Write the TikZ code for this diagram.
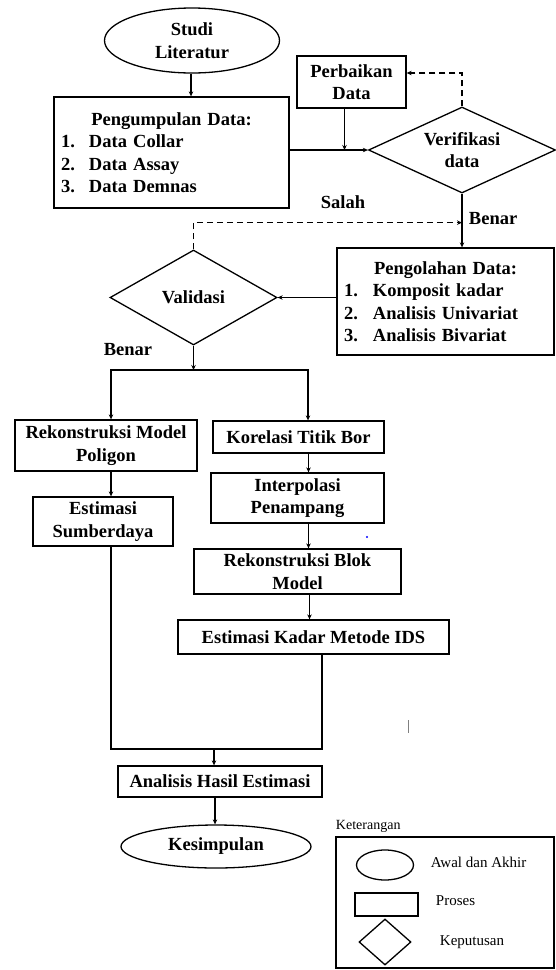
\documentclass[tikz,border=0pt]{standalone}
\usepackage{fontspec}
\setmainfont{Liberation Serif}
\usetikzlibrary{shapes.geometric,arrows.meta}

\begin{document}
\begin{tikzpicture}[x=1pt,y=-1pt,line width=1.3pt,>={Stealth[length=5pt,width=4.5pt]}]
    \tikzstyle{proses}=[draw,rectangle,inner sep=0pt,align=center,font=\fontsize{18.5}{22.5}\selectfont\bfseries]
    \tikzstyle{daftar}=[proses,align=left,inner xsep=7pt]
    \tikzstyle{terminal}=[draw,ellipse,inner sep=0pt,align=center,font=\fontsize{18.5}{22.5}\selectfont\bfseries]
    \tikzstyle{keputusan}=[draw,diamond,inner sep=0pt,align=center,font=\fontsize{18.5}{22.5}\selectfont\bfseries]
    \tikzstyle{label}=[font=\fontsize{18.5}{22.5}\selectfont\bfseries]
    \tikzstyle{balik}=[->,line width=1.1pt,dash pattern=on 6pt off 4pt]
    \tikzstyle{ket}=[anchor=west,font=\fontsize{15}{18}\selectfont]
    \useasboundingbox (0,0) rectangle (556,970);
    % alur utama
    \node[terminal,minimum width=175pt,minimum height=65pt] (F_studi) at (192,40.5) {Studi\\Literatur};
    \node[daftar,text width=221pt,minimum height=111pt] (F_kumpul) at (171.5,152.5) {\makebox[221pt][c]{Pengumpulan Data:}\\ \makebox[28pt][l]{1.}Data Collar\\ \makebox[28pt][l]{2.}Data Assay\\ \makebox[28pt][l]{3.}Data Demnas};
    \node[proses,minimum width=109pt,minimum height=52pt] (F_perbaikan) at (351.5,82) {Perbaikan\\Data};
    \node[keputusan,aspect=2.17,minimum width=187pt,minimum height=86pt] (F_verif) at (462,150) {Verifikasi\\data};
    \node[daftar,text width=203pt,minimum height=107pt] (F_olah) at (445.5,301.5) {\makebox[203pt][c]{Pengolahan Data:}\\ \makebox[29pt][l]{1.}Komposit kadar\\ \makebox[29pt][l]{2.}Analisis Univariat\\ \makebox[29pt][l]{3.}Analisis Bivariat};
    \node[keputusan,aspect=1.76,minimum width=167pt,minimum height=95pt] (F_valid) at (193.5,297.5) {Validasi};
    \node[proses,minimum width=182pt,minimum height=51pt] (F_poligon) at (106,445.5) {Rekonstruksi Model\\Poligon};
    \node[proses,minimum width=171pt,minimum height=32pt] (F_korelasi) at (298.5,437) {Korelasi Titik Bor};
    \node[proses,minimum width=140pt,minimum height=49pt] (F_sumber) at (103,521.5) {Estimasi\\Sumberdaya};
    \node[proses,minimum width=173pt,minimum height=50pt] (F_interp) at (297.5,498) {Interpolasi\\Penampang};
    \node[proses,minimum width=207pt,minimum height=45pt] (F_blok) at (297.5,571.5) {Rekonstruksi Blok\\Model};
    \node[proses,minimum width=271pt,minimum height=34pt] (F_kadar) at (313.5,637) {Estimasi Kadar Metode IDS};
    \node[proses,minimum width=204pt,minimum height=31pt] (F_analisis) at (220,781.5) {Analisis Hasil Estimasi};
    \node[terminal,minimum width=190pt,minimum height=43pt] (F_simpul) at (216,846.5) {Kesimpulan};
    \node[label] (T_salah) at (343,202) {Salah};
    \node[label,anchor=west] (T_benar1) at (465,219) {Benar};
    \node[label] (T_benar2) at (128,350) {Benar};
    \coordinate (C_split) at (193.5,370);
    \coordinate (C_left) at (111,749);
    \coordinate (C_right) at (322,749);
    \coordinate (C_merge) at (214,749);
    % penghubung
    \draw[->] ([xshift=-1pt]F_studi.south) -- ([xshift=-1pt]F_studi.south |- F_kumpul.north);
    \draw[->] (F_kumpul.east |- F_verif.west) -- (F_verif.west);
    \draw[->] ([xshift=-7pt]F_perbaikan.south) -- ([xshift=-7pt]F_perbaikan.south |- F_verif.west);
    \draw[balik] (F_verif.north) |- ([yshift=9pt]F_perbaikan.east);
    \draw[->] (F_verif.south) -- (F_verif.south |- F_olah.north);
    \draw[balik] (F_valid.north) |- ([yshift=-29pt]F_verif.south);
    \draw[->] (F_olah.west |- F_valid.east) -- (F_valid.east);
    \draw[->] (F_valid.south) -- (C_split);
    \draw[->] (C_split) -| ([xshift=5pt]F_poligon.north);
    \draw[->] (C_split) -| ([xshift=9.5pt]F_korelasi.north);
    \draw[->] ([xshift=5pt]F_poligon.south) -- ([xshift=5pt]F_poligon.south |- F_sumber.north);
    \draw[->] ([xshift=10pt]F_korelasi.south) -- ([xshift=10pt]F_korelasi.south |- F_interp.north);
    \draw[->] ([xshift=11pt]F_interp.south) -- ([xshift=11pt]F_interp.south |- F_blok.north);
    \draw[->] ([xshift=12pt]F_blok.south) -- ([xshift=12pt]F_blok.south |- F_kadar.north);
    \draw ([xshift=8pt]F_sumber.south) -- (C_left) -- (C_right) -- (C_right |- F_kadar.south);
    \draw[->] (C_merge) -- (C_merge |- F_analisis.north);
    \draw[->] ([xshift=-5pt]F_analisis.south) -- ([xshift=-5pt]F_analisis.south |- F_simpul.north);
    % titik kecil
    \fill[blue] (367,537) circle (1.2pt);
    \draw[gray,line width=0.8pt] (408,720) -- (408,733);
    % keterangan
    \node[ket,font=\fontsize{14}{16}\selectfont] (L_judul) at (332,826) {Keterangan};
    \node[draw,minimum width=218pt,minimum height=131pt,inner sep=0pt] (L_box) at (445,902.5) {};
    \node[draw,ellipse,minimum width=57pt,minimum height=30pt,inner sep=0pt] (L_oval) at (385,865) {};
    \node[draw,rectangle,minimum width=63pt,minimum height=23pt,inner sep=0pt] (L_rect) at (386.5,904.5) {};
    \node[draw,diamond,minimum width=52pt,minimum height=46pt,inner sep=0pt] (L_diam) at (385,942) {};
    \node[ket] (L_awal) at (427,862) {Awal dan Akhir};
    \node[ket] (L_proses) at (432,901) {Proses};
    \node[ket] (L_putus) at (436,942) {Keputusan};
\end{tikzpicture}
\end{document}
